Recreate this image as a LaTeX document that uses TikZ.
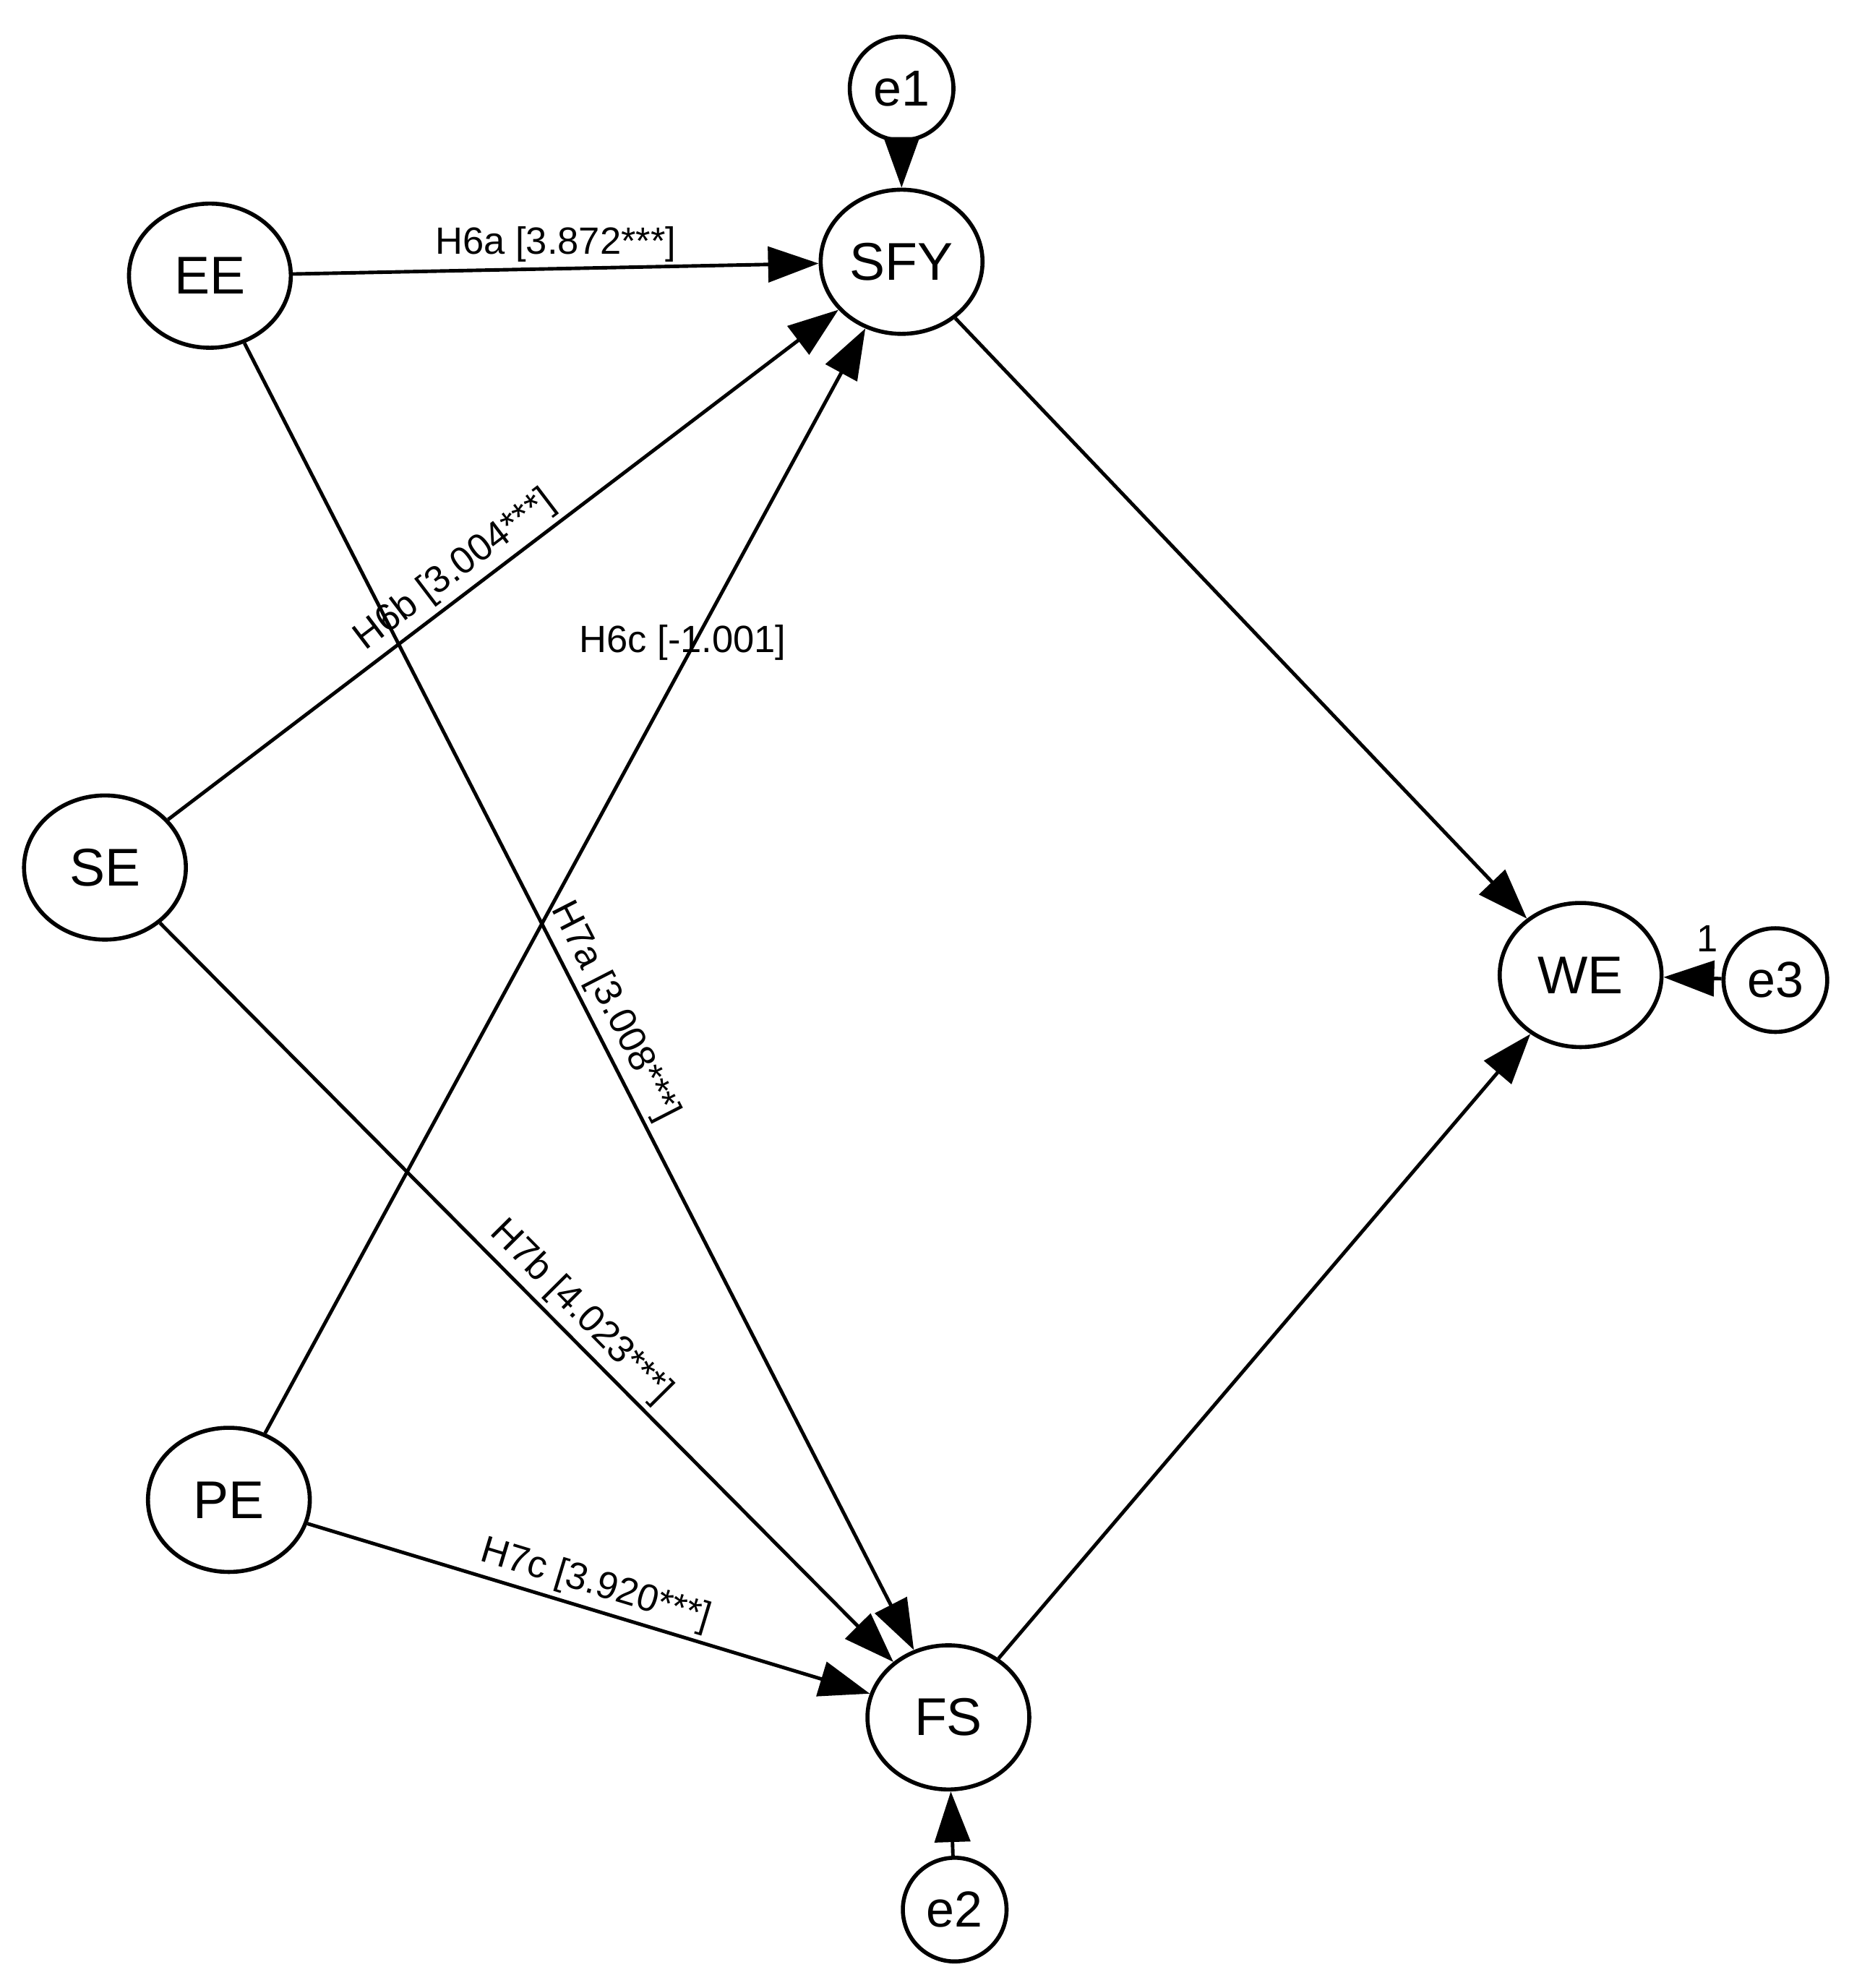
\documentclass[tikz,border=0pt]{standalone}
\usepackage{fontspec}
\setmainfont{Liberation Sans}
\usetikzlibrary{arrows.meta,shapes.geometric}
\begin{document}
\begin{tikzpicture}[x=0.5pt,y=-0.5pt,
  lat/.style={draw,line width=1.6pt,ellipse,minimum width=64pt,minimum height=57pt,inner sep=0pt,font=\fontsize{21}{24}\selectfont},
  err/.style={draw,line width=1.6pt,circle,minimum size=41pt,inner sep=0pt,font=\fontsize{20}{24}\selectfont},
  arr/.style={line width=1.4pt,-{Triangle[length=20pt,width=14pt]}},
  lab/.style={font=\fontsize{15}{17}\selectfont,inner sep=2pt}]
\useasboundingbox (0,0) rectangle (1462,1572);
\node[err] (e1) at (713,70) {e1};
\node[lat] (SFY) at (713,207) {SFY};
\node[lat] (EE) at (166,218) {EE};
\node[lat] (SE) at (83,686) {SE};
\node[lat] (PE) at (181,1186) {PE};
\node[lat] (FS) at (750,1358) {FS};
\node[err] (e2) at (755,1510) {e2};
\node[lat] (WE) at (1250,771) {WE};
\node[err] (e3) at (1404,775) {e3};
\draw[arr] (e1) -- (SFY);
\draw[arr] (e2) -- (FS);
\draw[arr] (e3) -- (WE);
\node[lab] (l1) at (1350,742) {1};
\draw[arr] (EE) -- node[lab,above,pos=0.5] (la) {H6a [3.872***]} (SFY);
\draw[arr] (SE) -- node[lab,above,sloped,pos=0.45] (lb) {H6b [3.004***]} (SFY);
\draw[arr] (PE) -- (SFY);
\node[lab] (lc) at (540,508) {H6c [-1.001]};
\draw[arr] (EE) -- node[lab,above,sloped,pos=0.52] (ld) {H7a [3.008***]} (FS);
\draw[arr] (SE) -- node[lab,above,sloped,pos=0.55] (le) {H7b [4.023***]} (FS);
\draw[arr] (PE) -- node[lab,above,sloped,pos=0.5] (lf) {H7c [3.920***]} (FS);
\draw[arr] (SFY) -- (WE);
\draw[arr] (FS) -- (WE);
\end{tikzpicture}
\end{document}
